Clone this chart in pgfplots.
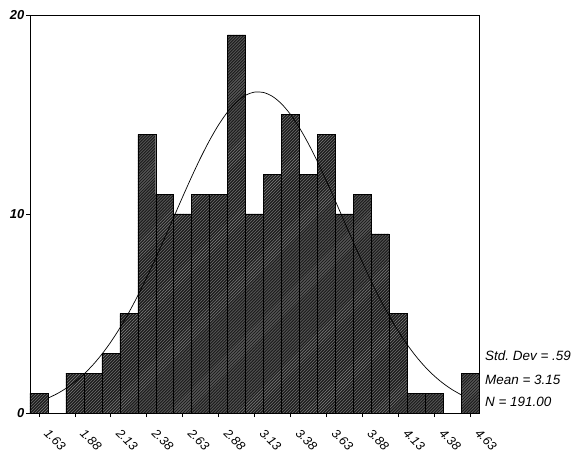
\documentclass[border=0pt]{standalone}
\usepackage{pgfplots}
\pgfplotsset{compat=1.18}
\usepackage{pgfplotstable}
\usepackage{fontspec}
\setmainfont{Liberation Sans}
\usetikzlibrary{patterns}

\pgfplotstableread{
x y
1.625 1
1.750 0
1.875 2
2.000 2
2.125 3
2.250 5
2.375 14
2.500 11
2.625 10
2.750 11
2.875 11
3.000 19
3.125 10
3.250 12
3.375 15
3.500 12
3.625 14
3.750 10
3.875 11
4.000 9
4.125 5
4.250 1
4.375 1
4.500 0
4.625 2
}\hist

\pgfplotstableread{
x y
1.6875 0.747
1.7500 0.966
1.8125 1.236
1.8750 1.562
1.9375 1.954
2.0000 2.415
2.0625 2.952
2.1250 3.569
2.1875 4.266
2.2500 5.042
2.3125 5.893
2.3750 6.812
2.4375 7.784
2.5000 8.797
2.5625 9.831
2.6250 10.864
2.6875 11.871
2.7500 12.827
2.8125 13.704
2.8750 14.479
2.9375 15.126
3.0000 15.627
3.0625 15.963
3.1250 16.125
3.1875 16.107
3.2500 15.910
3.3125 15.539
3.3750 15.008
3.4375 14.333
3.5000 13.536
3.5625 12.640
3.6250 11.673
3.6875 10.658
3.7500 9.624
3.8125 8.593
3.8750 7.586
3.9375 6.623
4.0000 5.718
4.0625 4.881
4.1250 4.120
4.1875 3.439
4.2500 2.839
4.3125 2.317
4.3750 1.870
4.4375 1.492
4.5000 1.178
4.5625 0.919
}\normcurve

\begin{document}
\begin{tikzpicture}
\path[use as bounding box] (-30bp,-44bp) rectangle (551bp,413bp);
\begin{axis}[
  at={(0,0)}, anchor=south west,
  scale only axis, width=449bp, height=398bp,
  xmin=1.5625, xmax=4.6875, ymin=0, ymax=20,
  xtick={1.625,1.875,2.125,2.375,2.625,2.875,3.125,3.375,3.625,3.875,4.125,4.375,4.625},
  xticklabels={1.63,1.88,2.13,2.38,2.63,2.88,3.13,3.38,3.63,3.88,4.13,4.38,4.63},
  ytick={0,10,20},
  tick align=outside, xtick pos=left, ytick pos=left,
  major tick length=4bp,
  axis line style={line width=0.8pt},
  tick style={line width=0.8pt, black},
  axis on top,
  /pgf/number format/assume math mode=true,
  yticklabel style={font=\fontsize{13}{15}\selectfont\bfseries\itshape, inner sep=1.5bp},
  xticklabel style={font=\fontsize{12.5}{14}\selectfont\itshape, rotate=-45, anchor=north west, inner sep=0bp, xshift=15bp, yshift=0bp},
  clip=false,
]
\addplot[ybar, bar width=0.125, bar shift=0, fill=black!88, draw=black,
  postaction={pattern=north east lines, pattern color=black!50}] table[x=x,y=y] {\hist};
\addplot[black, line width=0.7pt, smooth, mark=none] table[x=x,y=y] {\normcurve};
\node[anchor=west, font=\fontsize{13.5}{15}\selectfont\itshape] at (rel axis cs:1.006,0.143) {Std.\ Dev = .59};
\node[anchor=west, font=\fontsize{13.5}{15}\selectfont\itshape] at (rel axis cs:1.006,0.082) {Mean = 3.15};
\node[anchor=west, font=\fontsize{13.5}{15}\selectfont\itshape] at (rel axis cs:1.006,0.028) {N = 191.00};
\end{axis}
\end{tikzpicture}
\end{document}
